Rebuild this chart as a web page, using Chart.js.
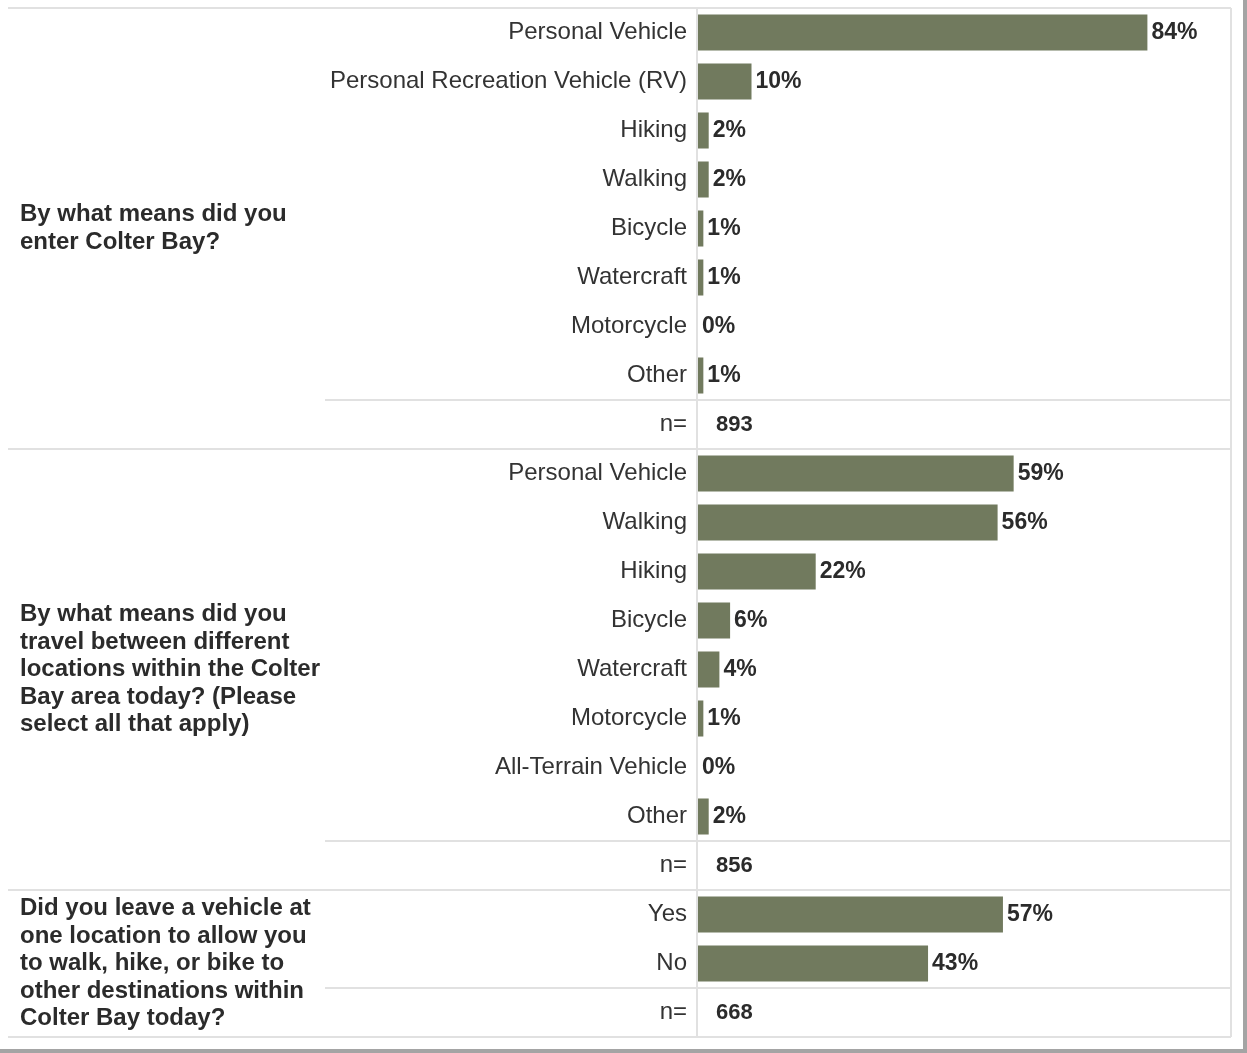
<!DOCTYPE html>
<html>
<head>
<meta charset="utf-8">
<title>Colter Bay transportation survey</title>
<script src="https://cdn.jsdelivr.net/npm/chart.js@4.4.1/dist/chart.umd.min.js"></script>
<style>
  html, body { margin: 0; padding: 0; background: #fff; }
  #frame {
    width: 1243px; height: 1049px; background: #fff;
    border-right: 4px solid #a4a4a4; border-bottom: 4px solid #a4a4a4;
  }
  canvas { display: block; }
</style>
</head>
<body>
<div id="frame"><canvas id="chart" width="1243" height="1049"></canvas></div>
<script>
// Survey questions (wrapped as printed)
const questions = [
  ["By what means did you", "enter Colter Bay?"],
  ["By what means did you", "travel between different", "locations within the Colter", "Bay area today? (Please", "select all that apply)"],
  ["Did you leave a vehicle at", "one location to allow you", "to walk, hike, or bike to", "other destinations within", "Colter Bay today?"]
];

// Q1: means of entering Colter Bay
const entryModes = ["Personal Vehicle", "Personal Recreation Vehicle (RV)", "Hiking", "Walking", "Bicycle", "Watercraft", "Motorcycle", "Other"];
const entryPct = [84, 10, 2, 2, 1, 1, 0, 1];

// Q2: means of travel within the Colter Bay area
const travelModes = ["Personal Vehicle", "Walking", "Hiking", "Bicycle", "Watercraft", "Motorcycle", "All-Terrain Vehicle", "Other"];
const travelPct = [59, 56, 22, 6, 4, 1, 0, 2];

// Q3: left a vehicle to walk, hike or bike
const leftVehicleAnswers = ["Yes", "No"];
const leftVehiclePct = [57, 43];

// Respondents per question
const respondents = [893, 856, 668];

const nLabel = "n=";
const groupCategories = [entryModes, travelModes, leftVehicleAnswers];
const groupValues = [entryPct, travelPct, leftVehiclePct];

// Flatten into one row list: each group's answers followed by its n= row
const rowLabels = [];
const rowValues = [];
const groupRanges = []; // [firstRow, nRow]
groupCategories.forEach((cats, g) => {
  const first = rowLabels.length;
  cats.forEach((c, i) => { rowLabels.push(c); rowValues.push(groupValues[g][i]); });
  rowLabels.push(nLabel);
  rowValues.push(null);
  groupRanges.push([first, rowLabels.length - 1]);
});

const FONT = "'Liberation Sans', Arial, sans-serif";
const LINE = "#e1e1e1";
const TEXT = "#2b2b2b";

const tablePlugin = {
  id: "surveyTable",
  beforeDatasetsDraw(chart) {
    const { ctx, chartArea, scales: { y } } = chart;
    const edge = (i) => (y.getPixelForValue(i) + y.getPixelForValue(i + 1)) / 2;
    const leftOuter = 8, leftInner = 325, right = 1231;
    ctx.save();
    ctx.strokeStyle = LINE;
    ctx.lineWidth = 2;
    const hline = (yy, x0) => { ctx.beginPath(); ctx.moveTo(x0, yy); ctx.lineTo(right, yy); ctx.stroke(); };
    hline(chartArea.top, leftOuter);
    groupRanges.forEach(([first, nRow], g) => {
      hline(edge(nRow - 1), leftInner);
      if (g < groupRanges.length - 1) hline(edge(nRow), leftOuter);
    });
    hline(chartArea.bottom, leftOuter);
    // axis divider and right border
    ctx.beginPath();
    ctx.moveTo(chartArea.left - 1, chartArea.top); ctx.lineTo(chartArea.left - 1, chartArea.bottom);
    ctx.moveTo(right, chartArea.top); ctx.lineTo(right, chartArea.bottom);
    ctx.stroke();
    ctx.restore();
  },
  afterDatasetsDraw(chart) {
    const { ctx, chartArea, scales: { y } } = chart;
    const meta = chart.getDatasetMeta(0);
    ctx.save();
    ctx.fillStyle = TEXT;
    ctx.textBaseline = "middle";
    ctx.textAlign = "left";
    // percentage labels at bar ends
    ctx.font = "bold 23px " + FONT;
    rowValues.forEach((v, i) => {
      if (v === null) return;
      const bar = meta.data[i];
      ctx.fillText(v + "%", bar.x + 4, bar.y);
    });
    // respondent counts
    ctx.font = "bold 22px " + FONT;
    groupRanges.forEach(([first, nRow], g) => {
      ctx.fillText(String(respondents[g]), chartArea.left + 18, y.getPixelForValue(nRow));
    });
    // question titles, centred on their group
    ctx.font = "bold 24px " + FONT;
    const edge = (i) => (y.getPixelForValue(i) + y.getPixelForValue(i + 1)) / 2;
    const lh = 27.6;
    groupRanges.forEach(([first, nRow], g) => {
      const top = first === 0 ? chartArea.top : edge(first - 1);
      const bottom = nRow === rowLabels.length - 1 ? chartArea.bottom : edge(nRow);
      const lines = questions[g];
      const mid = (top + bottom) / 2;
      const start = mid - (lines.length - 1) * lh / 2;
      lines.forEach((t, k) => ctx.fillText(t, 20, start + k * lh));
    });
    ctx.restore();
  }
};

new Chart(document.getElementById("chart"), {
  type: "bar",
  data: {
    labels: rowLabels,
    datasets: [{
      data: rowValues,
      backgroundColor: "#717a5e",
      borderWidth: 0,
      barPercentage: 0.735,
      categoryPercentage: 1
    }]
  },
  options: {
    indexAxis: "y",
    responsive: false,
    animation: false,
    layout: { padding: { top: 8, right: 10, bottom: 12, left: 0 } },
    plugins: { legend: { display: false }, tooltip: { enabled: false } },
    scales: {
      x: { display: false, min: 0, max: 100 },
      y: {
        grid: { display: false, drawTicks: false },
        border: { display: false },
        ticks: { color: "#333", font: { family: FONT, size: 24 }, padding: 11, autoSkip: false },
        afterFit(scale) {
          scale.width = 698;
          scale.paddingTop = 0;
          scale.paddingBottom = 0;
        }
      }
    }
  },
  plugins: [tablePlugin]
});
</script>
</body>
</html>
